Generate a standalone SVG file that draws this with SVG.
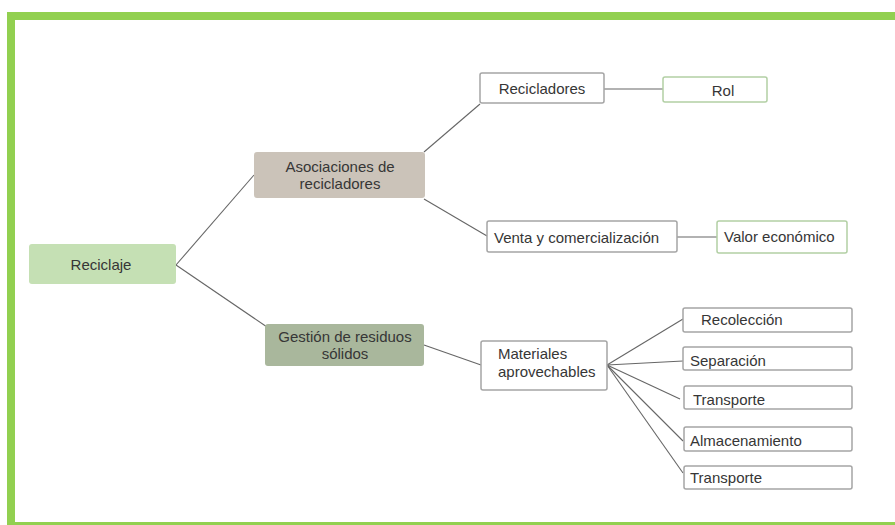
<svg xmlns="http://www.w3.org/2000/svg" width="895" height="525" viewBox="0 0 895 525">
<style>
text{font-family:"Liberation Sans",Arial,sans-serif;font-size:15px;fill:#363636}
.c{text-anchor:middle}
.w{fill:#fff;stroke:#a5a5a5;stroke-width:1.5}
.g{fill:#fff;stroke:#b2cfa4;stroke-width:1.5}
#connectors line{stroke:#666;stroke-width:1.1}
</style>
<rect x="0" y="0" width="895" height="525" fill="#fff"/>
<g id="frame" fill="#92d050">
<rect x="7" y="12" width="888" height="8"/>
<rect x="7" y="12" width="8" height="513"/>
<rect x="7" y="522" width="888" height="3"/>
</g>
<g id="connectors">
<line x1="176" y1="265" x2="254" y2="175"/>
<line x1="176" y1="265" x2="267" y2="327"/>
<line x1="424" y1="152" x2="480" y2="104"/>
<line x1="424" y1="199" x2="487" y2="236"/>
<line x1="604" y1="89" x2="663" y2="89"/>
<line x1="677" y1="237" x2="717" y2="237"/>
<line x1="424" y1="345" x2="481" y2="365"/>
<line x1="607" y1="365" x2="683" y2="319"/>
<line x1="607" y1="365" x2="683" y2="361"/>
<line x1="607" y1="365" x2="680" y2="399"/>
<line x1="607" y1="365" x2="683" y2="441"/>
<line x1="607" y1="365" x2="683" y2="473"/>
</g>
<g id="reciclaje"><rect x="29" y="244" width="147" height="40" rx="3" fill="#c5e0b4"/><text x="101" y="270" class="c">Reciclaje</text></g>
<g id="asociaciones"><rect x="254" y="152" width="171" height="46" rx="3" fill="#cbc3b9"/><text x="340" y="172" class="c">Asociaciones de</text><text x="340" y="189" class="c">recicladores</text></g>
<g id="gestion"><rect x="265" y="324" width="159" height="42" rx="3" fill="#a9b79c"/><text x="345" y="342" class="c">Gestión de residuos</text><text x="345" y="359" class="c">sólidos</text></g>
<g id="recicladores"><rect x="480" y="73" width="124" height="30" rx="2" class="w"/><text x="542" y="94" class="c">Recicladores</text></g>
<g id="rol"><rect x="663" y="77" width="104" height="25" rx="2" class="g"/><text x="723" y="96" class="c">Rol</text></g>
<g id="venta"><rect x="487" y="221" width="190" height="31" rx="2" class="w"/><text x="494" y="243">Venta y comercialización</text></g>
<g id="valor"><rect x="717" y="221" width="130" height="32" rx="2" class="g"/><text x="724" y="242">Valor económico</text></g>
<g id="materiales"><rect x="481" y="341" width="126" height="49" rx="2" class="w"/><text x="498" y="359">Materiales</text><text x="498" y="377">aprovechables</text></g>
<g id="recoleccion"><rect x="683" y="308" width="169" height="24" rx="2" class="w"/><text x="701" y="325">Recolección</text></g>
<g id="separacion"><rect x="683" y="347" width="169" height="23" rx="2" class="w"/><text x="690" y="366">Separación</text></g>
<g id="transporte1"><rect x="684" y="386" width="168" height="23" rx="2" class="w"/><text x="693" y="405">Transporte</text></g>
<g id="almacenamiento"><rect x="684" y="427" width="168" height="24" rx="2" class="w"/><text x="690" y="446">Almacenamiento</text></g>
<g id="transporte2"><rect x="684" y="466" width="168" height="23" rx="2" class="w"/><text x="690" y="483">Transporte</text></g>
</svg>
